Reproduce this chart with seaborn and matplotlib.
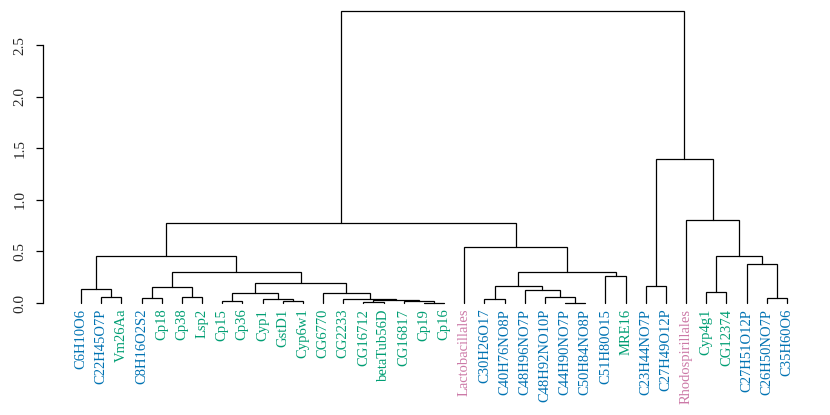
import matplotlib
matplotlib.use("Agg")
import matplotlib.pyplot as plt
import seaborn as sns

# ---- data ----
leaves = ["C6H10O6", "C22H45O7P", "Vm26Aa", "C8H16O2S2", "Cp18", "Cp38", "Lsp2",
          "Cp15", "Cp36", "Cyp1", "GstD1", "Cyp6w1", "CG6770", "CG2233", "CG16712",
          "betaTub56D", "CG16817", "Cp19", "Cp16", "Lactobacillales", "C30H26O17",
          "C40H76NO8P", "C48H96NO7P", "C48H92NO10P", "C44H90NO7P", "C50H84NO8P",
          "C51H80O15", "MRE16", "C23H44NO7P", "C27H49O12P", "Rhodospirillales",
          "Cyp4g1", "CG12374", "C27H51O12P", "C26H50NO7P", "C35H60O6"]
leaf_group = ["met", "met", "gene", "met", "gene", "gene", "gene",
              "gene", "gene", "gene", "gene", "gene", "gene", "gene", "gene",
              "gene", "gene", "gene", "gene", "microbe", "met",
              "met", "met", "met", "met", "met",
              "met", "gene", "met", "met", "microbe",
              "gene", "gene", "met", "met", "met"]
group_colors = {"met": "#0072B2", "gene": "#009E73", "microbe": "#CC79A7"}

# merges: (child_a, child_b, height); ids < 36 are leaves, 36+ are earlier merges
merge_a = [1, 0, 3, 5, 38, 7, 10, 9, 41, 17, 16, 14, 47, 13, 12, 44, 40, 37,
           20, 24, 23, 22, 54, 26, 58, 19, 53, 28, 31, 34, 33, 64, 30, 63, 62]
merge_b = [2, 36, 4, 6, 39, 8, 11, 42, 43, 18, 45, 15, 46, 48, 49, 50, 51, 52,
           21, 25, 55, 56, 57, 27, 59, 60, 61, 29, 32, 35, 65, 66, 67, 68, 69]
merge_h = [0.06, 0.133, 0.048, 0.055, 0.155, 0.019, 0.021, 0.039, 0.093, 0.003,
           0.018, 0.01, 0.03, 0.04, 0.10, 0.19, 0.30, 0.455,
           0.039, 0.003, 0.055, 0.126, 0.165, 0.26, 0.30, 0.54, 0.775,
           0.16, 0.103, 0.045, 0.375, 0.452, 0.80, 1.395, 2.83]
yticks = [0.0, 0.5, 1.0, 1.5, 2.0, 2.5]

# ---- plot ----
sns.set_style("white")
plt.rcParams["font.family"] = ["Liberation Serif", "DejaVu Serif"]

fig = plt.figure(figsize=(8.3, 4.15), dpi=100)
ax = fig.add_axes([81 / 830, (415 - 303) / 415, (787 - 81) / 830, (303 - 11) / 415])

n = len(leaves)
xpos = {i: float(i) for i in range(n)}
ypos = {i: 0.0 for i in range(n)}
for k, (a, b, h) in enumerate(zip(merge_a, merge_b, merge_h)):
    node = n + k
    xa, xb = xpos[a], xpos[b]
    ya, yb = ypos[a], ypos[b]
    ax.plot([xa, xa, xb, xb], [ya, h, h, yb], color="black", lw=0.9,
            solid_joinstyle="miter", clip_on=False)
    xpos[node] = (xa + xb) / 2
    ypos[node] = h

ax.set_xlim(0, n - 1)
ax.set_ylim(0, 2.83)

for i, (lab, g) in enumerate(zip(leaves, leaf_group)):
    ax.text(i, -0.055, lab, rotation=90, ha="center", va="top",
            color=group_colors[g], fontsize=10.5)

for s in ["top", "right", "bottom"]:
    ax.spines[s].set_visible(False)
ax.spines["left"].set_position(("outward", 38 * 0.72))
ax.spines["left"].set_bounds(0, 2.5)
ax.spines["left"].set_linewidth(0.9)
ax.spines["left"].set_color("black")

ax.set_xticks([])
ax.set_yticks(yticks)
ax.set_yticklabels([f"{t:.1f}" for t in yticks])
ax.tick_params(axis="y", direction="out", length=5, width=0.9, color="black",
               pad=7, left=True, labelrotation=90, labelsize=11)
for lbl in ax.get_yticklabels():
    lbl.set_verticalalignment("center")
ax.patch.set_alpha(0)

fig.savefig("out.png", dpi=100)
